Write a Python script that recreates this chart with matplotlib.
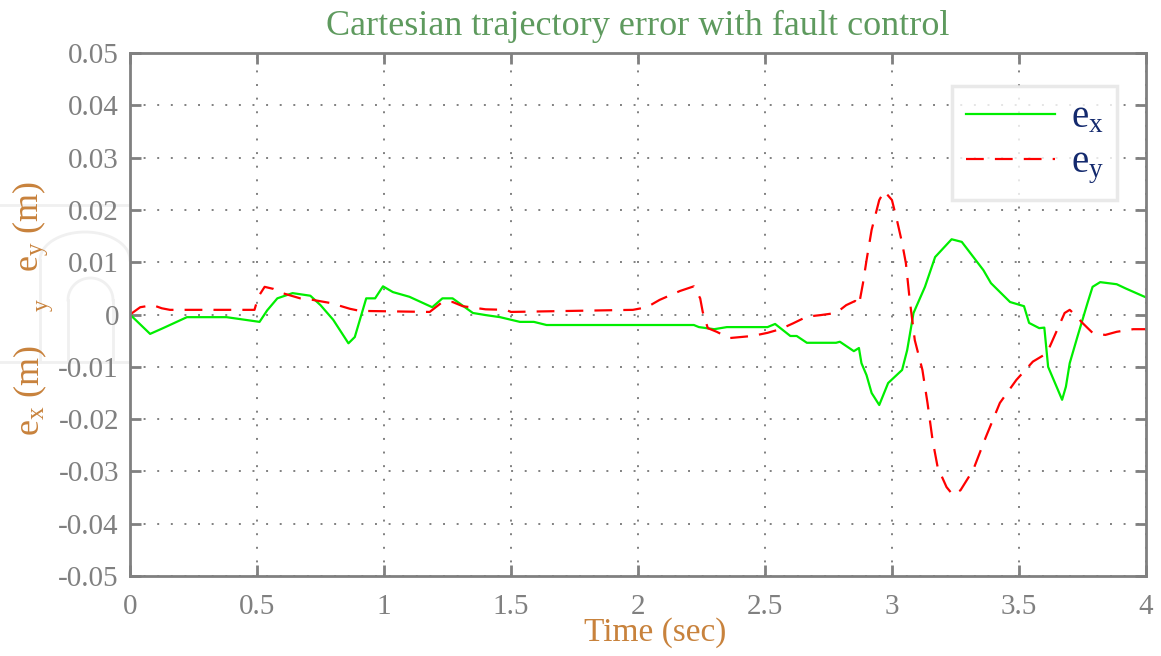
import numpy as np
import matplotlib
matplotlib.use('Agg')
import matplotlib.pyplot as plt
from matplotlib.lines import Line2D

# -----------------------------------
# data (time in sec, error in m)
T_EX = [0.0, 0.079, 0.13, 0.224, 0.38, 0.51, 0.54, 0.58, 0.64, 0.71, 0.75, 0.80, 0.86, 0.885,
        0.93, 0.965, 0.996, 1.035, 1.10, 1.19, 1.23, 1.27, 1.35, 1.40, 1.457, 1.535, 1.59, 1.64,
        2.22, 2.24, 2.30, 2.35, 2.51, 2.54, 2.60, 2.625, 2.665, 2.78, 2.795, 2.85, 2.87, 2.88,
        2.90, 2.92, 2.95, 2.985, 3.04, 3.06, 3.085, 3.13, 3.17, 3.235, 3.275, 3.36, 3.39, 3.465,
        3.52, 3.54, 3.58, 3.60, 3.615, 3.65, 3.67, 3.685, 3.70, 3.73, 3.77, 3.79, 3.82, 3.885,
        3.92, 3.99, 4.0]
EX = [0.0, -0.0037, -0.0026, -0.0005, -0.0005, -0.0014, 0.0008, 0.0031, 0.0041, 0.0036, 0.0018,
      -0.001, -0.0055, -0.0043, 0.0031, 0.0031, 0.0054, 0.0043, 0.0034, 0.0014, 0.0031, 0.0031,
      0.0003, -0.0001, -0.0005, -0.0014, -0.0014, -0.002, -0.002, -0.0024, -0.0028, -0.0024,
      -0.0024, -0.0018, -0.0041, -0.0041, -0.0054, -0.0054, -0.0052, -0.007, -0.0064, -0.0093,
      -0.0116, -0.015, -0.0173, -0.0131, -0.0106, -0.0068, 0.0003, 0.0053, 0.011, 0.0144, 0.0139,
      0.0085, 0.006, 0.0024, 0.0016, -0.0016, -0.0026, -0.0025, -0.010, -0.014, -0.0163, -0.0138,
      -0.0093, -0.0043, 0.0022, 0.0053, 0.0062, 0.0058, 0.005, 0.0035, 0.0033]

T_EY = [0.0, 0.04, 0.09, 0.125, 0.157, 0.49, 0.505, 0.53, 0.565, 0.60, 0.67, 0.72, 0.79, 0.866,
        0.905, 1.18, 1.23, 1.27, 1.31, 1.40, 1.48, 1.50, 1.98, 2.035, 2.085, 2.165, 2.22, 2.245,
        2.255, 2.275, 2.31, 2.36, 2.45, 2.51, 2.56, 2.61, 2.665, 2.72, 2.78, 2.82, 2.855, 2.87,
        2.886, 2.90, 2.92, 2.95, 2.97, 3.0, 3.02, 3.04, 3.055, 3.07, 3.09, 3.12, 3.14, 3.16, 3.18,
        3.215, 3.24, 3.27, 3.32, 3.37, 3.425, 3.49, 3.555, 3.61, 3.65, 3.68, 3.70, 3.72, 3.75,
        3.79, 3.84, 3.885, 3.95, 4.0]
EY = [0.0, 0.0014, 0.0018, 0.0012, 0.0009, 0.0009, 0.0034, 0.0053, 0.0049, 0.0041, 0.0031, 0.0028,
      0.0022, 0.0011, 0.0007, 0.0005, 0.0024, 0.0024, 0.0016, 0.001, 0.0009, 0.0005, 0.0009,
      0.0014, 0.0028, 0.0045, 0.0054, 0.0031, 0.0005, -0.0026, -0.0033, -0.0045, -0.0041,
      -0.0035, -0.0028, -0.0017, -0.0004, -0.0001, 0.0003, 0.0018, 0.0026, 0.0018, 0.006, 0.0104,
      0.0162, 0.0219, 0.0236, 0.0219, 0.018, 0.0137, 0.0098, 0.0028, -0.0049, -0.0106, -0.0169,
      -0.024, -0.0292, -0.033, -0.0345, -0.0336, -0.0297, -0.0234, -0.0169, -0.0125, -0.009,
      -0.0074, -0.003, 0.0003, 0.0009, 0.0, -0.0016, -0.0035, -0.0039, -0.0033, -0.0028, -0.0028]

X_TICKS = [0, 0.5, 1, 1.5, 2, 2.5, 3, 3.5, 4]
Y_TICKS = [-0.05, -0.04, -0.03, -0.02, -0.01, 0, 0.01, 0.02, 0.03, 0.04, 0.05]
Y_TICKLABELS = ['-0.05', '-0.04', '-0.03', '-0.02', '-0.01', '0',
                '0.01', '0.02', '0.03', '0.04', '0.05']
X_TICKLABELS = ['0', '0.5', '1', '1.5', '2', '2.5', '3', '3.5', '4']
# -----------------------------------

plt.rcParams['font.family'] = ['Liberation Serif', 'DejaVu Serif']
plt.rcParams['mathtext.fontset'] = 'custom'
plt.rcParams['mathtext.rm'] = 'Liberation Serif'
plt.rcParams['mathtext.it'] = 'Liberation Serif'

GRAY = '#808080'
ORANGE = '#c8823c'
W, H = 1161.0, 656.0

fig = plt.figure(figsize=(11.61, 6.56), dpi=100)

# faint logo watermark behind the y label / tick labels
WM = '#f0f0f0'
th = np.linspace(0, np.pi, 40)
wm_lines = [
    ([0, 128], [205, 205]),
    ([0, 128], [362, 362]),
    ([40, 40], [260, 362]),
    (list(40 + 45 * (1 - np.cos(th))), list(260 - 28 * np.sin(th))),
    ([68, 68], [300, 362]),
    ([113, 113], [300, 362]),
    (list(68 + 22.5 * (1 - np.cos(th))), list(300 - 22 * np.sin(th))),
]
for xs, ys in wm_lines:
    fig.add_artist(Line2D(np.array(xs) / W, 1 - np.array(ys) / H, color=WM,
                          linewidth=2, zorder=0))

ax = fig.add_axes([0.112, 0.122, 0.875, 0.797])
ax.patch.set_alpha(0)

ax.plot(T_EX, EX, color='#00ee00', linewidth=1.6, label=r'$\mathregular{e_x}$')
ax.plot(T_EY, EY, color='#ff0000', linewidth=1.6, linestyle=(0, (8, 5)), label=r'$\mathregular{e_y}$')

ax.set_xlim(0, 4)
ax.set_ylim(-0.05, 0.05)
ax.set_xticks(X_TICKS)
ax.set_xticklabels(X_TICKLABELS)
ax.set_yticks(Y_TICKS)
ax.set_yticklabels(Y_TICKLABELS)

ax.grid(True, color=GRAY, linestyle=(0, (1, 6)), linewidth=1.4)
for sp in ax.spines.values():
    sp.set_color(GRAY)
    sp.set_linewidth(2)
ax.tick_params(direction='in', length=8, width=2, color=GRAY, labelcolor=GRAY,
               labelsize=21, top=True, right=True, pad=8)
ax.tick_params(axis='x', pad=13)

ax.set_title('Cartesian trajectory error with fault control', color='#5e9a5e',
             fontsize=26, pad=13)

# x label, slightly right of centre as in the reference
fig.text(655 / W, 1 - 633 / H, 'Time (sec)', color=ORANGE, fontsize=24,
         ha='center', va='center')

# messy composite y label
fig.text(0.026, 1 - 345 / H, r'$\mathregular{e_x}$ (m)', rotation=90, color=ORANGE,
         fontsize=26, ha='center', va='top')
fig.text(0.036, 1 - 305 / H, 'y', rotation=90, color=ORANGE, fontsize=17,
         ha='center', va='center')
fig.text(0.026, 1 - 272 / H, r'$\mathregular{e_y}$ (m)', rotation=90, color=ORANGE,
         fontsize=26, ha='center', va='bottom')

leg = ax.legend(loc='upper right', bbox_to_anchor=(0.972, 0.937), fontsize=28,
                frameon=True, fancybox=False, handlelength=2.3, borderpad=0.35,
                labelspacing=0.2, handletextpad=0.4, borderaxespad=0)
leg.get_frame().set_edgecolor('#e4e4e4')
leg.get_frame().set_linewidth(2.5)
for t in leg.get_texts():
    t.set_color('#142a6e')

fig.savefig('out.png', dpi=100)
